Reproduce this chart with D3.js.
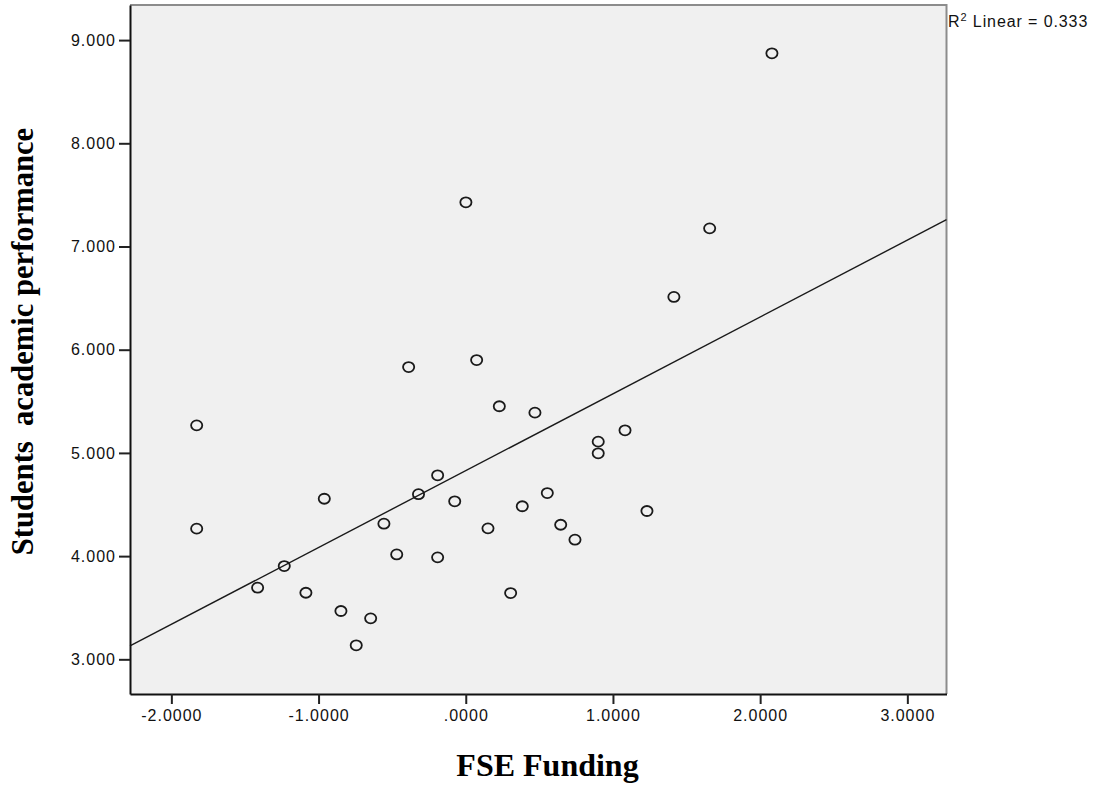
<!DOCTYPE html>
<html>
<head>
<meta charset="utf-8">
<script src="https://cdn.jsdelivr.net/npm/d3@7/dist/d3.min.js"></script>
<style>
  html, body { margin: 0; padding: 0; background: #ffffff; }
  svg { display: block; }
</style>
</head>
<body>
<svg id="chart" width="1106" height="790"></svg>
<script>
// ---- Data ----
const fseFunding = [
  -1.828, -1.828, -1.414, -1.233, -1.086, -0.848, -0.744, -0.646, -0.961, -0.556,
  -0.469, -0.388, -0.321, -0.191, -0.191, -0.075, 0.001, 0.074, 0.151, 0.228,
  0.305, 0.384, 0.470, 0.554, 0.645, 0.742, 0.900, 0.900, 1.082, 1.231,
  1.414, 1.657, 2.080
];
const academicPerformance = [
  5.267, 4.266, 3.694, 3.904, 3.645, 3.468, 3.136, 3.397, 4.556, 4.314,
  4.016, 5.832, 4.600, 4.783, 3.988, 4.531, 7.428, 5.900, 4.269, 5.452,
  3.642, 4.483, 5.390, 4.611, 4.304, 4.159, 5.109, 4.996, 5.219, 4.437,
  6.511, 7.176, 8.872
];
const xTickValues = [-2, -1, 0, 1, 2, 3];
const yTickValues = [3, 4, 5, 6, 7, 8, 9];
const xDomain = [-2.281, 3.266];
const yDomain = [2.664, 9.340];
const xTitle = "FSE Funding";
const yTitle = "Students  academic performance";
const r2Text = "Linear = 0.333";

// ---- Layout ----
const svg = d3.select("#chart");
const plot = { left: 130, right: 946.5, top: 5, bottom: 694 };

const x = d3.scaleLinear().domain(xDomain).range([plot.left, plot.right]);
const y = d3.scaleLinear().domain(yDomain).range([plot.bottom, plot.top]);

// background
svg.append("rect")
  .attr("x", plot.left).attr("y", plot.top)
  .attr("width", plot.right - plot.left).attr("height", plot.bottom - plot.top)
  .attr("fill", "#f0f0f0");

// top & right frame (grey)
svg.append("path")
  .attr("d", `M${plot.left},${plot.top}H${plot.right}V${plot.bottom}`)
  .attr("fill", "none").attr("stroke", "#8c8c8c").attr("stroke-width", 2);

// regression line computed from the data
const n = fseFunding.length;
const mx = d3.mean(fseFunding), my = d3.mean(academicPerformance);
let sxy = 0, sxx = 0;
for (let i = 0; i < n; i++) {
  sxy += (fseFunding[i] - mx) * (academicPerformance[i] - my);
  sxx += (fseFunding[i] - mx) ** 2;
}
const slope = sxy / sxx, intercept = my - slope * mx;
svg.append("line")
  .attr("x1", x(xDomain[0])).attr("y1", y(intercept + slope * xDomain[0]))
  .attr("x2", x(xDomain[1])).attr("y2", y(intercept + slope * xDomain[1]))
  .attr("stroke", "#1a1a1a").attr("stroke-width", 1.4);

// points
svg.append("g").selectAll("ellipse")
  .data(fseFunding.map((v, i) => [v, academicPerformance[i]]))
  .join("ellipse")
  .attr("cx", d => x(d[0])).attr("cy", d => y(d[1]))
  .attr("rx", 5.6).attr("ry", 5.0)
  .attr("fill", "none").attr("stroke", "#1a1a1a").attr("stroke-width", 1.8);

// axes
const fmtX = v => d3.format(".4f")(v).replace("\u2212", "-").replace(/^0\./, ".").replace(/^-0\./, "-.");
const xAxis = d3.axisBottom(x).tickValues(xTickValues).tickFormat(fmtX)
  .tickSize(10).tickSizeOuter(0).tickPadding(6);
const yAxis = d3.axisLeft(y).tickValues(yTickValues).tickFormat(d3.format(".3f"))
  .tickSize(11).tickSizeOuter(0).tickPadding(3);

const gx = svg.append("g").attr("transform", `translate(0,${plot.bottom})`).call(xAxis);
const gy = svg.append("g").attr("transform", `translate(${plot.left},0)`).call(yAxis);

[gx, gy].forEach(g => {
  g.select(".domain").attr("stroke", "#111").attr("stroke-width", 2);
  g.selectAll(".tick line").attr("stroke", "#222").attr("stroke-width", 2);
  g.selectAll(".tick text")
    .attr("fill", "#111")
    .style("font-family", "'Liberation Sans', Arial, sans-serif")
    .style("font-size", "16px")
    .style("letter-spacing", "1px");
});

// axis titles
svg.append("text")
  .attr("x", 547.5).attr("y", 776)
  .attr("text-anchor", "middle")
  .style("font-family", "'Liberation Serif', 'Times New Roman', serif")
  .style("font-weight", "bold").style("font-size", "32px")
  .attr("fill", "#000")
  .text(xTitle);

svg.append("text")
  .attr("transform", "translate(33,341.5) rotate(-90)")
  .attr("text-anchor", "middle")
  .style("font-family", "'Liberation Serif', 'Times New Roman', serif")
  .style("font-weight", "bold").style("font-size", "30.6px")
  .style("white-space", "pre")
  .attr("fill", "#000")
  .text(yTitle);

// R² label
const rt = svg.append("text")
  .attr("x", 948).attr("y", 27)
  .style("font-family", "'Liberation Sans', Arial, sans-serif")
  .style("font-size", "16px")
  .style("letter-spacing", "0.9px")
  .attr("fill", "#111");
rt.append("tspan").text("R");
rt.append("tspan").attr("dy", -6).style("font-size", "11px").text("2");
rt.append("tspan").attr("dy", 6).style("white-space", "pre").text(" " + r2Text);
</script>
</body>
</html>
